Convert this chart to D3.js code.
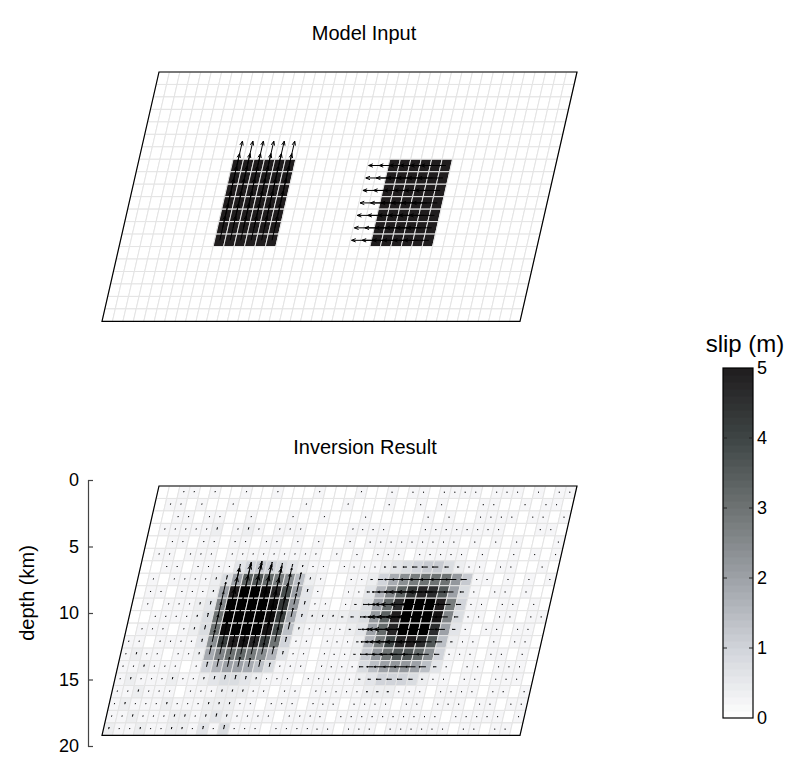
<!DOCTYPE html>
<html>
<script src="https://d3js.org/d3.v7.min.js"></script>

<head>
    <style>
        body {
            margin: 0;
            background-color: #fff;
            font-family: "Liberation Sans", Arial, Helvetica, sans-serif;
        }

        svg {
            display: block;
        }
    </style>
</head>

<body>
</body>
<script>
    const width = 789,
        height = 776;

    // fault plane: 40 patches along strike, 20 down dip
    const nStrike = 40, nDip = 20;
    const faultDepth = [0.45, 19.2]; // km, top and bottom edge of the fault
    const depthTicks = [0, 5, 10, 15, 20];
    const slipTicks = [0, 1, 2, 3, 4, 5];

    // model input: two uniform patches (row / column index ranges)
    const inputPatches = [
        { rows: [7, 13], cols: [9, 14], slip: 5, rake: 90 },
        { rows: [7, 13], cols: [24, 29], slip: 5, rake: 180 }
    ];

    // inversion result, one char per patch, slip = base36 digit * 0.2 m
    // (spaces only group the columns for reading)
    const inversionSlip = [
        "0011010010 0100010001 0010110111 1011101011",
        "0110100100 0000100010 0010010100 0110010110",
        "0011011001 0001001000 1000001010 0111101101",
        "0111112012 1011100001 1110001111 1111000110",
        "0011011011 0110101001 0111111111 0101010001",
        "0110111011 1111111010 1011101111 1010010101",
        "00110111 135654321 10111 123456642 110110010",
        "01011112 4ahigec72 10011 259cefffb6 11010101",
        "0110111 2apssroja3 10011 38dhmonia4 10110100",
        "0101112 3dsuutrmb3 11012 4agnstspe5 11011010",
        "0011112 4ftuutrl93 22223 4bhptutqd4 11011011",
        "0111012 4frttsqj72 11112 3agottsna3 10110110",
        "1101111 3clpqolf51 10111 28ekopni72 11010110",
        "1211011 29dfgec83 110111 26bfiigc5 111011010",
        "1121110 158aa9741 110111 147abba73 101101110",
        "12111211 2344321 11011111 2355542 1101101110",
        "112111011 12221 1011011111 2221 110111101101",
        "1211121112 2211011101 1101111011 0111011011",
        "1121112212 3211110111 1011111111 1101111101",
        "2112112213 1411101111 1101110111 1110110110"
    ].map(s => s.replace(/ /g, ""));
    const slipUnit = 0.2;
    const inversionRake = [
        { cols: [0, 19], rake: 90 },
        { cols: [20, 39], rake: 180 }
    ];

    const svg = d3.select("body").append("svg").attr("width", width).attr("height", height);

    const strikeX = d3.scaleLinear().domain([0, nStrike]).range([159, 577]);
    const depthY = d3.scaleLinear().domain([0, 20]).range([480, 746]);
    const rowDepth = d3.scaleLinear().domain([0, nDip]).range(faultDepth);
    const dipShift = 57; // bottom edge sits this far left of the top edge
    const arrowLen = d3.scaleLinear().domain([0, 5]).range([0, 25]);

    const slipColor = d3.scaleLinear()
        .domain([0, 1, 2, 3, 4, 5, 5.6])
        .range(["#ffffff", "#d1d4da", "#9da1a7", "#6e7373", "#3e4545", "#201d1e", "#000000"])
        .clamp(true);

    function pt(u, v) {
        return [strikeX(u) - dipShift * v / nDip, depthY(rowDepth(v))];
    }

    // unit vector pointing up dip
    const p0 = pt(0, nDip), p1 = pt(0, 0);
    const dl = Math.hypot(p1[0] - p0[0], p1[1] - p0[1]);
    const upDip = [(p1[0] - p0[0]) / dl, (p1[1] - p0[1]) / dl];

    function arrowPath(c) {
        const a = pt(c.j + 0.5, c.i + 0.5);
        const r = c.rake * Math.PI / 180;
        const dx = Math.cos(r) + Math.sin(r) * upDip[0];
        const dy = Math.sin(r) * upDip[1];
        const n = Math.hypot(dx, dy);
        const len = arrowLen(c.slip);
        const ux = dx / n, uy = dy / n;
        const b = [a[0] + ux * len, a[1] + uy * len];
        const h = len * 0.18, ang = 0.38;
        const back = Math.atan2(-uy, -ux);
        const h1 = [b[0] + h * Math.cos(back + ang), b[1] + h * Math.sin(back + ang)];
        const h2 = [b[0] + h * Math.cos(back - ang), b[1] + h * Math.sin(back - ang)];
        return `M${a}L${b}M${h1}L${b}L${h2}`;
    }

    function cellPath(c) {
        return "M" + [pt(c.j, c.i), pt(c.j + 1, c.i), pt(c.j + 1, c.i + 1), pt(c.j, c.i + 1)].join("L") + "Z";
    }

    function drawFault(g, cells) {
        g.selectAll(".cell")
            .data(cells)
            .join("path")
            .attr("class", "cell")
            .attr("d", cellPath)
            .attr("fill", d => slipColor(d.slip))
            .attr("stroke", "#e4e4e4")
            .attr("stroke-width", 1);

        g.selectAll(".arrow")
            .data(cells.filter(d => d.slip > 0))
            .join("path")
            .attr("class", "arrow")
            .attr("d", arrowPath)
            .attr("fill", "none")
            .attr("stroke", "black")
            .attr("stroke-width", 1);

        g.append("path")
            .attr("d", "M" + [pt(0, 0), pt(nStrike, 0), pt(nStrike, nDip), pt(0, nDip)].join("L") + "Z")
            .attr("fill", "none")
            .attr("stroke", "black")
            .attr("stroke-width", 1.2);
    }

    // model input cells
    const inputCells = [];
    for (let i = 0; i < nDip; i++) {
        for (let j = 0; j < nStrike; j++) {
            const p = inputPatches.find(q => i >= q.rows[0] && i <= q.rows[1] && j >= q.cols[0] && j <= q.cols[1]);
            inputCells.push({ i, j, slip: p ? p.slip : 0, rake: p ? p.rake : 90 });
        }
    }

    // inversion cells
    const invCells = [];
    inversionSlip.forEach((row, i) => {
        row.split("").forEach((ch, j) => {
            const z = inversionRake.find(q => j >= q.cols[0] && j <= q.cols[1]);
            invCells.push({ i, j, slip: parseInt(ch, 36) * slipUnit, rake: z.rake });
        });
    });

    const inputPanel = svg.append("g").attr("transform", "translate(0,-414)");
    drawFault(inputPanel, inputCells);
    const resultPanel = svg.append("g");
    drawFault(resultPanel, invCells);

    // titles
    svg.append("text")
        .attr("x", 364).attr("y", 40)
        .attr("text-anchor", "middle")
        .attr("font-size", 20)
        .text("Model Input");
    svg.append("text")
        .attr("x", 365).attr("y", 454)
        .attr("text-anchor", "middle")
        .attr("font-size", 20)
        .text("Inversion Result");

    // depth axis
    const yAxis = svg.append("g")
        .attr("transform", "translate(88,0)")
        .call(d3.axisLeft(depthY).tickValues(depthTicks).tickSizeInner(-5).tickSizeOuter(-5).tickPadding(9));
    yAxis.selectAll("path, line").attr("stroke", "#444").attr("stroke-width", 1.2);
    yAxis.selectAll("text")
        .attr("font-size", 18)
        .attr("font-family", "Liberation Sans, Arial, sans-serif")
        .attr("fill", "black");
    svg.append("text")
        .attr("transform", "translate(34,593) rotate(-90)")
        .attr("text-anchor", "middle")
        .attr("font-size", 20)
        .text("depth (km)");

    // colour bar
    const cbX = 723, cbW = 30;
    const cbY = d3.scaleLinear().domain([0, 5]).range([718, 368]);
    const steps = d3.range(0, 5, 0.1);
    svg.selectAll(".cb")
        .data(steps)
        .join("rect")
        .attr("class", "cb")
        .attr("x", cbX)
        .attr("width", cbW)
        .attr("y", d => cbY(d + 0.1))
        .attr("height", d => cbY(d) - cbY(d + 0.1) + 0.5)
        .attr("fill", d => slipColor(d + 0.05));
    svg.append("rect")
        .attr("x", cbX).attr("y", cbY(5))
        .attr("width", cbW).attr("height", cbY(0) - cbY(5))
        .attr("fill", "none")
        .attr("stroke", "black")
        .attr("stroke-width", 1.2);
    const cbTicks = svg.selectAll(".cbtick")
        .data(slipTicks.slice(1, -1))
        .join("g")
        .attr("class", "cbtick");
    cbTicks.append("line")
        .attr("x1", cbX).attr("x2", cbX + 4)
        .attr("y1", d => cbY(d)).attr("y2", d => cbY(d))
        .attr("stroke", "#222");
    cbTicks.append("line")
        .attr("x1", cbX + cbW - 4).attr("x2", cbX + cbW)
        .attr("y1", d => cbY(d)).attr("y2", d => cbY(d))
        .attr("stroke", "#222");
    svg.selectAll(".cblabel")
        .data(slipTicks)
        .join("text")
        .attr("class", "cblabel")
        .attr("x", cbX + cbW + 4)
        .attr("y", d => cbY(d))
        .attr("dy", "0.36em")
        .attr("font-size", 18)
        .text(d => d);
    svg.append("text")
        .attr("x", 745).attr("y", 352)
        .attr("text-anchor", "middle")
        .attr("font-size", 24)
        .text("slip (m)");
</script>

</html>
